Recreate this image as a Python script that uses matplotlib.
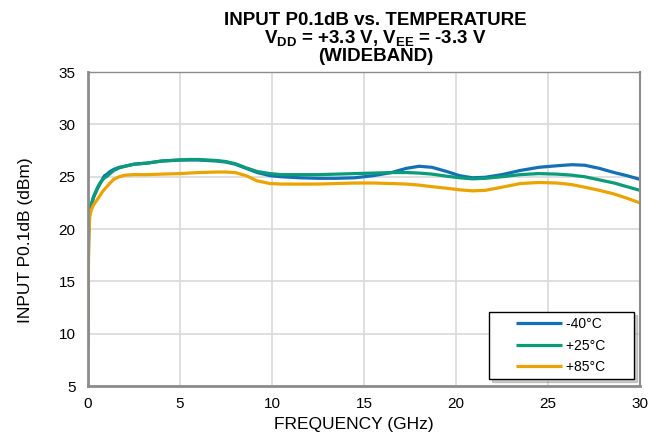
import numpy as np
import matplotlib
matplotlib.use("Agg")
import matplotlib.pyplot as plt
from matplotlib.legend_handler import HandlerLine2D

plt.rcParams["font.family"] = ["Liberation Sans", "DejaVu Sans"]
plt.rcParams["mathtext.fontset"] = "custom"
plt.rcParams["mathtext.rm"] = "Liberation Sans"
plt.rcParams["mathtext.bf"] = "Liberation Sans:bold"

# frequency points (GHz) and input P0.1dB (dBm) per temperature
freq = [0.0, 0.02, 0.05, 0.1, 0.2, 0.3, 0.5, 0.65, 0.8, 0.9, 1.0, 1.2, 1.4, 1.7,
        2.0, 2.5, 3.2, 4.0, 5.0, 5.5, 6.0, 7.0, 7.5, 8.0, 8.6, 9.2, 9.9, 10.5,
        11.5, 12.5, 13.5, 14.5, 15.5, 16.5, 17.3, 18.0, 18.7, 19.5, 20.2, 20.9,
        21.6, 22.5, 23.5, 24.5, 25.5, 26.3, 27.0, 27.8, 28.6, 29.3, 30.0]

p_m40 = [8.7, 17.0, 20.5, 21.6, 22.4, 23.0, 23.8, 24.3, 24.8, 25.1, 25.2, 25.5, 25.7, 25.9,
         26.0, 26.2, 26.3, 26.5, 26.6, 26.6, 26.6, 26.5, 26.4, 26.2, 25.8, 25.4, 25.1, 25.0,
         24.9, 24.85, 24.85, 24.9, 25.1, 25.4, 25.8, 26.0, 25.9, 25.5, 25.1, 24.9,
         24.95, 25.2, 25.6, 25.9, 26.05, 26.15, 26.1, 25.8, 25.4, 25.1, 24.75]

p_p25 = [12.0, 18.5, 21.0, 21.8, 22.5, 23.1, 23.9, 24.4, 24.7, 24.9, 25.0, 25.3, 25.6, 25.85,
         26.0, 26.2, 26.3, 26.5, 26.6, 26.65, 26.65, 26.55, 26.45, 26.25, 25.85, 25.5, 25.3, 25.2,
         25.2, 25.2, 25.25, 25.3, 25.35, 25.4, 25.4, 25.35, 25.25, 25.05, 24.9, 24.8,
         24.85, 25.0, 25.2, 25.3, 25.25, 25.15, 25.0, 24.7, 24.4, 24.05, 23.7]

p_p85 = [10.5, 16.0, 19.5, 21.3, 21.9, 22.3, 22.8, 23.2, 23.6, 23.8, 24.0, 24.4, 24.75, 25.0,
         25.15, 25.2, 25.2, 25.25, 25.3, 25.35, 25.4, 25.45, 25.45, 25.4, 25.1, 24.6, 24.35, 24.3,
         24.3, 24.3, 24.35, 24.4, 24.4, 24.35, 24.3, 24.2, 24.05, 23.9, 23.75, 23.65,
         23.7, 24.0, 24.35, 24.45, 24.4, 24.25, 24.0, 23.7, 23.35, 22.95, 22.5]

labels = ["-40°C", "+25°C", "+85°C"]
colors = ["#1470b4", "#0a9b78", "#eba300"]

fig = plt.figure(figsize=(6.59, 4.37), dpi=100)
ax = fig.add_axes([0.1335, 0.1167, 0.8375, 0.7183])

lines = []
for p, lab, col in zip([p_m40, p_p25, p_p85], labels, colors):
    ln, = ax.plot(freq, p, color=col, linewidth=2.3, label=lab, solid_capstyle="butt")
    lines.append(ln)

ax.set_xlim(0, 30)
ax.set_ylim(5, 35)
ax.set_xticks(np.arange(0, 31, 5))
ax.set_yticks(np.arange(5, 36, 5))
ax.grid(True, color="#d9d9d9", linewidth=1.2)
ax.set_axisbelow(True)
ax.tick_params(axis="y", length=0, labelsize=11, pad=9)
ax.tick_params(axis="x", length=0, labelsize=11, pad=8)

for side in ["left", "bottom", "right", "top"]:
    ax.spines[side].set_color("#8c8c8c")
ax.spines["left"].set_linewidth(2.0)
ax.spines["bottom"].set_linewidth(2.0)
ax.spines["right"].set_linewidth(1.5)
ax.spines["top"].set_linewidth(1.0)

ax.set_xlabel("FREQUENCY (GHz)", fontsize=12.5)
ax.set_ylabel("INPUT P0.1dB (dBm)", fontsize=12.5)
ax.xaxis.set_label_coords(0.482, -0.099)
ax.yaxis.set_label_coords(-0.10, 0.465)

# legend: short handles set in from the left edge, wide box
leg = ax.legend(lines, [l + "      " for l in labels],
                handler_map={ln: HandlerLine2D(xpad=1.6) for ln in lines},
                loc="lower right", bbox_to_anchor=(0.989, 0.022), borderaxespad=0,
                fontsize=10, frameon=True, fancybox=False, shadow={"color": "#9a9a9a"},
                handlelength=4.9, labelspacing=0.55, borderpad=0.35, handletextpad=0.3)
leg.get_frame().set_edgecolor("black")
leg.get_frame().set_linewidth(1.0)

tkw = dict(ha="center", va="center", fontsize=13.5, fontweight="bold")
fig.text(0.57, 0.952, "INPUT P0.1dB vs. TEMPERATURE", **tkw)
fig.text(0.57, 0.912, r"$\mathbf{V_{DD}}$ = +3.3 V, $\mathbf{V_{EE}}$ = -3.3 V", **tkw)
fig.text(0.57, 0.871, "(WIDEBAND)", **tkw)

fig.savefig("out.png", dpi=100)
